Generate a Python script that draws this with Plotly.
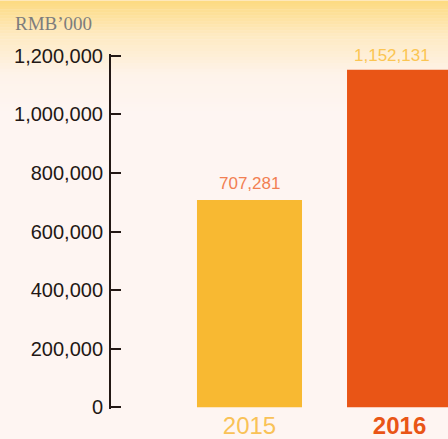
import plotly.graph_objects as go

years = ["2015", "2016"]
values = [707281, 1152131]
bar_colors = ["#F8B932", "#E95516"]
label_colors = ["#F27F52", "#FBC552"]
tick_vals = [0, 200000, 400000, 600000, 800000, 1000000, 1200000]
tick_text = ["0", "200,000", "400,000", "600,000", "800,000", "1,000,000", "1,200,000"]
x_tick_text = ["<span style='color:#F9C257'>2015</span>",
               "<b><span style='color:#E95516'>2016</span></b>"]

W, H = 448, 439
mt, mb, ml, mr = 54, 27, 111, 0

def hex2rgb(h):
    h = h.lstrip("#")
    return [int(h[i:i+2], 16) for i in (0, 2, 4)]

stops = [(0, "#FDDA80"), (35, "#FEEAC2"), (75, "#FEF3EA"), (115, "#FEF5F2")]
shapes = []
step = 3
ph = H - mt - mb
for p in range(0, 116, step):
    for (a, ca), (b, cb) in zip(stops[:-1], stops[1:]):
        if a <= p < b:
            t = (p + step / 2 - a) / (b - a)
            c1, c2 = hex2rgb(ca), hex2rgb(cb)
            col = "rgb(%d,%d,%d)" % tuple(round(c1[i] + (c2[i] - c1[i]) * t) for i in range(3))
            break
    y0 = (H - mb - p) / ph
    y1 = (H - mb - (p + step + 0.5)) / ph
    shapes.append(dict(type="rect", xref="paper", yref="paper",
                       x0=-ml / (W - ml - mr) - 0.01, x1=1.01, y0=y1, y1=y0,
                       fillcolor=col, line=dict(width=0), layer="below"))

fig = go.Figure()
fig.add_trace(go.Bar(
    x=[0, 1], y=values, width=0.7,
    marker=dict(color=bar_colors, line=dict(width=0)),
    hoverinfo="skip",
))

for i, v in enumerate(values):
    fig.add_annotation(x=i - 0.05 * i, y=v, yshift=14 if i == 1 else 17,
                       text="{:,}".format(v), showarrow=False, yanchor="middle",
                       font=dict(family="Liberation Sans, Arial", size=17,
                                 color=label_colors[i]))

fig.update_layout(
    width=W, height=H,
    margin=dict(l=ml, r=mr, t=mt, b=mb, pad=0),
    paper_bgcolor="#FEF5F2", plot_bgcolor="rgba(0,0,0,0)",
    showlegend=False, shapes=shapes,
    xaxis=dict(range=[-0.923, 1.323], tickmode="array", tickvals=[0, 1],
               ticktext=x_tick_text, showgrid=False, zeroline=False,
               showline=False, ticks="",
               tickfont=dict(family="Liberation Sans, Arial", size=24)),
    yaxis=dict(range=[-6000, 1206000], tickmode="array", tickvals=tick_vals,
               ticktext=tick_text, showgrid=False, zeroline=False,
               showline=True, linecolor="#231815", linewidth=2,
               ticks="inside", ticklen=10, tickwidth=2, tickcolor="#231815",
               tickfont=dict(family="Liberation Sans, Arial", size=20, color="#231815"),
               ticklabelstandoff=2),
)
fig.add_annotation(text="RMB’000", xref="paper", yref="paper",
                   x=-ml / (W - ml - mr) + 13 / (W - ml - mr), xanchor="left",
                   y=(H - mb - 23) / ph, yanchor="middle",
                   showarrow=False,
                   font=dict(family="Liberation Serif, Times New Roman", size=19, color="#7D7D7D"))

fig.write_html("out.html", config={"displayModeBar": False},
               post_script="document.body.style.margin='0';document.body.style.overflow='hidden';")
